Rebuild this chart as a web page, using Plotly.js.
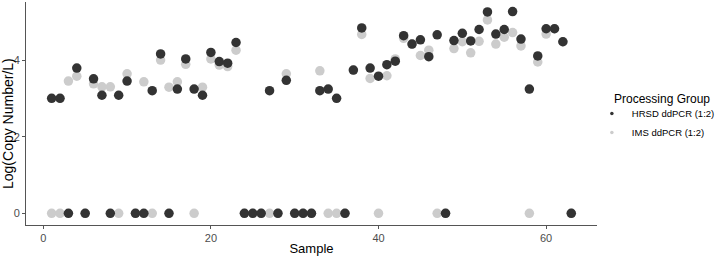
<!DOCTYPE html>
<html>
<head>
<meta charset="utf-8">
<script src="https://cdn.plot.ly/plotly-3.0.1.min.js"></script>
<style>html,body{margin:0;padding:0;background:#fff;}#chart{width:716px;height:256px;}</style>
</head>
<body>
<div id="chart"></div>
<script>
const samples = Array.from({length: 63}, (_, i) => i + 1);
const hrsdName = "HRSD ddPCR (1:2)";
const imsName = "IMS ddPCR (1:2)";
const hrsdValues = [3.01,3.01,0,3.80,0,3.52,3.09,0,3.09,3.46,
  0,0,3.21,4.17,0,3.25,4.04,3.25,3.09,4.21,
  3.97,3.93,4.47,0,0,0,3.21,0,3.48,0,
  0,0,3.21,3.25,3.01,0,3.75,4.85,3.80,3.59,
  3.89,3.98,4.65,4.43,4.54,4.10,4.67,0,4.52,4.71,
  4.51,4.81,5.27,4.69,4.81,5.28,4.56,3.25,4.12,4.83,
  4.83,4.49,0];
const imsValues = [0,0,3.46,3.59,0,3.39,3.31,3.31,0,3.65,
  0,3.44,0,4.01,3.30,3.44,3.90,0,3.30,4.04,
  3.88,3.84,4.27,0,0,0,0,0,3.65,0,
  0,0,3.73,0,0,0,3.75,4.68,3.53,0,
  3.60,4.04,4.58,4.43,4.13,4.27,0,0,4.31,4.49,
  4.20,4.50,5.06,4.43,4.61,4.73,4.38,0,3.96,4.69,
  4.83,4.49,0];
const xTickVals = [0, 20, 40, 60];
const yTickVals = [0, 2, 4];

const dark = "#333333", light = "#cccccc";
const FONT = "Liberation Sans, Arial, sans-serif";

const traces = [
  {x: samples, y: imsValues, type: "scatter", mode: "markers", name: imsName,
   marker: {color: light, size: 9.5}, showlegend: false, cliponaxis: true},
  {x: samples, y: hrsdValues, type: "scatter", mode: "markers", name: hrsdName,
   marker: {color: dark, size: 9.5}, showlegend: false, cliponaxis: true},
  {x: [null], y: [null], type: "scatter", mode: "markers", name: hrsdName,
   marker: {color: dark, size: 3.5}, showlegend: true},
  {x: [null], y: [null], type: "scatter", mode: "markers", name: imsName,
   marker: {color: light, size: 3.5}, showlegend: true}
];

const layout = {
  width: 716, height: 256,
  margin: {l: 26, r: 119, t: 2, b: 31, pad: 0, autoexpand: false},
  paper_bgcolor: "#fff", plot_bgcolor: "#fff",
  font: {family: FONT, color: "#000"},
  xaxis: {
    range: [-2.06, 66.07], tickvals: xTickVals, ticktext: xTickVals.map(String),
    showgrid: false, zeroline: false, showline: true, linecolor: "#555", linewidth: 1,
    ticks: "outside", ticklen: 3, tickcolor: "#555", tickwidth: 1,
    tickfont: {size: 11, color: "#4d4d4d", family: FONT},
    title: {text: "Sample", font: {size: 13, color: "#000", family: FONT}, standoff: 3}
  },
  yaxis: {
    range: [-0.306, 5.53], tickvals: yTickVals, ticktext: yTickVals.map(String),
    showgrid: false, zeroline: false, showline: true, linecolor: "#555", linewidth: 1,
    ticks: "outside", ticklen: 3, tickcolor: "#555", tickwidth: 1,
    tickfont: {size: 11, color: "#4d4d4d", family: FONT}
  },
  legend: {
    x: 0.991, xanchor: "left", y: 0.565, yanchor: "top",
    font: {size: 9.5, color: "#000", family: FONT},
    bgcolor: "rgba(0,0,0,0)", borderwidth: 0, tracegroupgap: 0
  },
  annotations: [
    {text: "Processing Group", xref: "paper", yref: "paper",
     x: (612 - 26) / 571, xanchor: "left", y: 1 - (99 - 2) / 223, yanchor: "middle",
     showarrow: false, font: {size: 12, color: "#000", family: FONT}},
    {text: "Log(Copy Number/L)", xref: "paper", yref: "paper", textangle: -90,
     x: (8 - 26) / 571, xanchor: "center", y: 1 - (124 - 2) / 223, yanchor: "middle",
     showarrow: false, font: {size: 14, color: "#000", family: FONT}}
  ]
};

Plotly.newPlot("chart", traces, layout, {displayModeBar: false, staticPlot: true});
</script>
</body>
</html>
